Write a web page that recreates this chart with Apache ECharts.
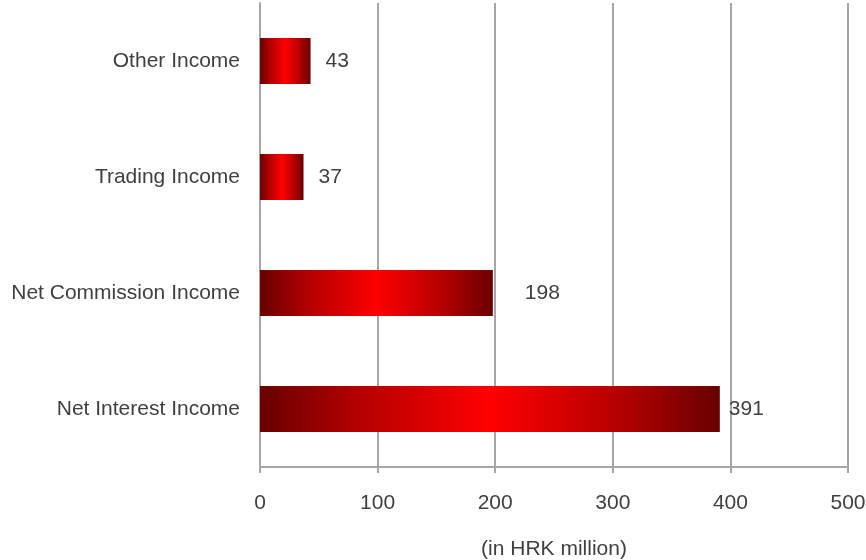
<!DOCTYPE html>
<html>
<head>
<meta charset="utf-8">
<script src="https://cdn.jsdelivr.net/npm/echarts@6/dist/echarts.min.js"></script>
<style>
  html, body { margin: 0; padding: 0; background: #fff; }
  #chart { width: 866px; height: 560px; }
</style>
</head>
<body>
<div id="chart"></div>
<script>
// top to bottom as in the picture
var categories = ['Other Income', 'Trading Income', 'Net Commission Income', 'Net Interest Income']
var values = [43, 37, 198, 391]
var xTicks = [0, 100, 200, 300, 400, 500]
var axisTitle = '(in HRK million)'

// excel puts the value labels at odd gaps
var labelGap = [15, 15, 32, 9]

var chart = echarts.init(document.getElementById('chart'))
var textColor = '#404040'
var gridColor = '#a6a6a6'

chart.setOption({
  backgroundColor: '#fff',
  animation: false,
  textStyle: { fontFamily: 'Liberation Sans, Arial, sans-serif' },
  grid: { left: 260, right: 18, top: 3, bottom: 93, outerBoundsMode: 'none', containLabel: false },
  xAxis: {
    type: 'value',
    min: xTicks[0],
    max: xTicks[xTicks.length - 1],
    interval: 100,
    name: axisTitle,
    nameLocation: 'middle',
    nameGap: 72,
    nameTextStyle: { color: textColor, fontSize: 21 },
    axisLine: { show: true, lineStyle: { color: gridColor, width: 2 } },
    axisTick: { show: true, length: 6, lineStyle: { color: gridColor, width: 2 } },
    axisLabel: { color: textColor, fontSize: 21, margin: 26 },
    splitLine: { show: true, lineStyle: { color: gridColor, width: 2 } }
  },
  yAxis: {
    type: 'category',
    inverse: true,
    data: categories,
    axisLine: { show: true, lineStyle: { color: gridColor, width: 2 } },
    axisTick: { show: false },
    axisLabel: { color: textColor, fontSize: 21, margin: 20 }
  },
  series: [{
    type: 'bar',
    barWidth: 46,
    data: values.map(function(v, i) {
      return {
        value: v,
        label: { distance: labelGap[i] }
      }
    }),
    itemStyle: {
      color: {
        type: 'linear',
        x: 0, y: 0, x2: 1, y2: 0,
        colorStops: [
          { offset: 0, color: '#680000' },
          { offset: 0.2, color: '#b00000' },
          { offset: 0.5, color: '#ff0000' },
          { offset: 0.8, color: '#b00000' },
          { offset: 1, color: '#680000' }
        ]
      }
    },
    label: {
      show: true,
      position: 'right',
      color: textColor,
      fontSize: 21
    }
  }]
})
</script>
</body>
</html>
